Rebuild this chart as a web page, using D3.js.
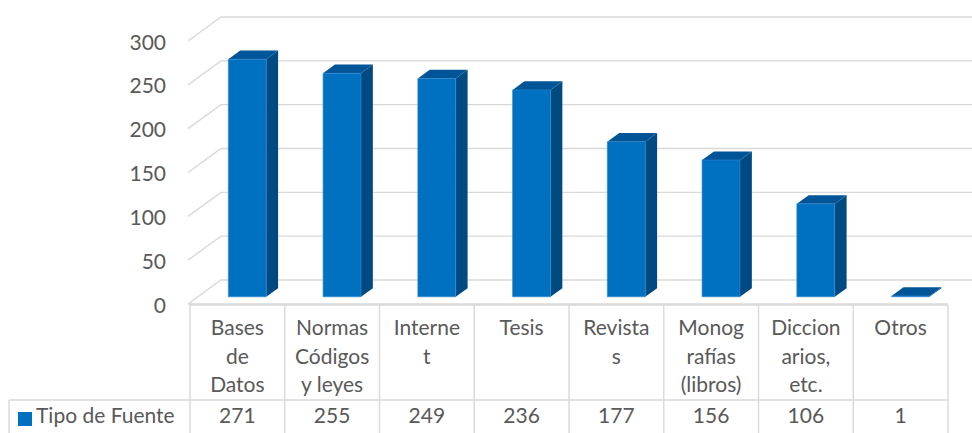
<!DOCTYPE html>
<html>
<head>
<meta charset="utf-8">
<script src="https://cdn.jsdelivr.net/npm/d3@7"></script>
<style>
  html, body { margin: 0; padding: 0; background: #fff; }
  svg text { font-family: Lato, "Open Sans", sans-serif; fill: #595959; }
</style>
</head>
<body>
<svg id="chart" width="972" height="433"></svg>
<script>
// ---- data ----
const categories = ["Bases de Datos", "Normas Códigos y leyes", "Internet", "Tesis", "Revistas", "Monografías (libros)", "Diccionarios, etc.", "Otros"];
const categoryLines = [["Bases", "de", "Datos"], ["Normas", "Códigos", "y leyes"], ["Interne", "t"], ["Tesis"], ["Revista", "s"], ["Monog", "rafías", "(libros)"], ["Diccion", "arios,", "etc."], ["Otros"]];
const values = [271, 255, 249, 236, 177, 156, 106, 1];
const yTicks = [0, 50, 100, 150, 200, 250, 300];
const seriesName = "Tipo de Fuente";

// ---- layout ----
const svg = d3.select("#chart");
const W = 972, H = 433;
const floorFrontY = 304, depthDX = 33, depthDY = -24;
const axisX = 188;
const x = d3.scaleBand().domain(categories).range([190, 948]).padding(0);
const yH = d3.scaleLinear().domain([0, 300]).range([0, 263]);
const P = (px, v, d) => [px + depthDX * d, floorFrontY + depthDY * d - yH(v)];

const colFront = "#0070C0", colSide = "#004A82", colTop = "#005598";
const gridCol = "#D9D9D9";

// gridlines (side wall diagonal + back wall)
const grid = svg.append("g");
yTicks.forEach(t => {
  const a = P(axisX, t, 0), b = P(axisX, t, 1);
  grid.append("path")
    .attr("d", `M${a[0]},${a[1]}L${b[0]},${b[1]}L${W},${b[1]}`)
    .attr("fill", "none").attr("stroke", gridCol).attr("stroke-width", 1.4);
});
// floor front edge
grid.append("line").attr("x1", axisX).attr("x2", 948)
  .attr("y1", floorFrontY).attr("y2", floorFrontY)
  .attr("stroke", gridCol).attr("stroke-width", 1.4);

// y labels
svg.append("g").selectAll("text").data(yTicks).join("text")
  .attr("x", 166).attr("y", d => P(axisX, d, 0)[1])
  .attr("text-anchor", "end").attr("dominant-baseline", "central")
  .attr("font-size", 21).text(d => d);

// bars
const d1 = 0.3, d2 = 0.66;
const bw = x.bandwidth();
const bars = svg.append("g").selectAll("g").data(categories.map((c, i) => ({ c, v: values[i] }))).join("g");
const poly = pts => "M" + pts.map(p => p.join(",")).join("L") + "Z";
bars.each(function (d) {
  const g = d3.select(this);
  const x0 = x(d.c) + bw * 0.3, x1 = x0 + bw * 0.4;
  g.append("path").attr("fill", colSide)
    .attr("d", poly([P(x1, 0, d1), P(x1, d.v, d1), P(x1, d.v, d2), P(x1, 0, d2)]));
  g.append("path").attr("fill", colTop)
    .attr("d", poly([P(x0, d.v, d1), P(x1, d.v, d1), P(x1, d.v, d2), P(x0, d.v, d2)]));
  g.append("path").attr("fill", colFront).attr("stroke", "#2F86CC").attr("stroke-width", 0.6)
    .attr("d", poly([P(x0, 0, d1), P(x0, d.v, d1), P(x1, d.v, d1), P(x1, 0, d1)]));
});

// data table
const tbl = svg.append("g");
const tableTop = 305, rowY = 400, tableBottom = 445;
const lineAttr = sel => sel.attr("stroke", gridCol).attr("stroke-width", 1.4);
lineAttr(tbl.append("line").attr("x1", 190).attr("x2", 948).attr("y1", tableTop).attr("y2", tableTop));
lineAttr(tbl.append("line").attr("x1", 9).attr("x2", 948).attr("y1", rowY).attr("y2", rowY));
lineAttr(tbl.append("line").attr("x1", 9).attr("x2", 948).attr("y1", tableBottom).attr("y2", tableBottom));
lineAttr(tbl.append("line").attr("x1", 9).attr("x2", 9).attr("y1", rowY).attr("y2", tableBottom));
categories.forEach(c => {
  lineAttr(tbl.append("line").attr("x1", x(c)).attr("x2", x(c)).attr("y1", tableTop).attr("y2", tableBottom));
});
lineAttr(tbl.append("line").attr("x1", 948).attr("x2", 948).attr("y1", tableTop).attr("y2", tableBottom));

categories.forEach((c, i) => {
  const cx = x(c) + bw / 2;
  categoryLines[i].forEach((ln, j) => {
    tbl.append("text").attr("x", cx).attr("y", 335 + j * 28.5)
      .attr("text-anchor", "middle").attr("font-size", 21).text(ln);
  });
  tbl.append("text").attr("x", cx).attr("y", 423)
    .attr("text-anchor", "middle").attr("font-size", 21).text(values[i]);
});

// legend key in table
tbl.append("rect").attr("x", 18).attr("y", 412).attr("width", 14).attr("height", 14).attr("fill", colFront);
tbl.append("text").attr("x", 36).attr("y", 423).attr("font-size", 21).text(seriesName);
</script>
</body>
</html>
